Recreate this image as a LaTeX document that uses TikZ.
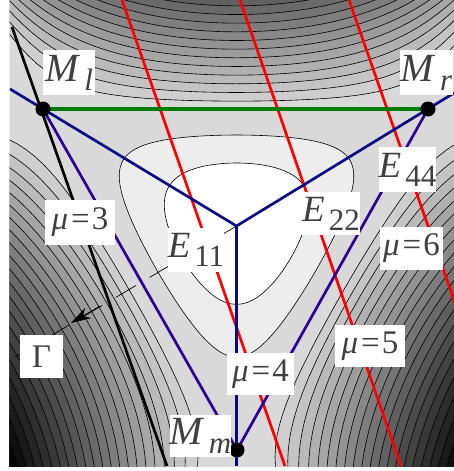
\documentclass[tikz,border=0pt]{standalone}
\usepackage{fontspec}
\setmainfont{Liberation Serif}
\usetikzlibrary{arrows.meta}
\definecolor{axisblue}{RGB}{10,10,135}
\definecolor{edgeviolet}{RGB}{45,0,150}
\definecolor{pathgreen}{RGB}{0,125,0}
\newcommand{\lowsub}[1]{\hspace{4pt}\raisebox{-9pt}{\fontsize{31}{31}\selectfont #1}}
\begin{document}
\begin{tikzpicture}[
    x=1pt, y=-1pt,
    isoline/.style={draw=black, line width=0.6pt},
    redline/.style={red, line width=2.7pt},
    axisline/.style={axisblue, line width=2.7pt},
    edgeline/.style={edgeviolet, line width=2.7pt},
    dot/.style={circle, fill=black, inner sep=0pt, minimum size=15pt},
    tag/.style={fill=white, text=black!75, inner sep=0pt, font=\fontsize{33}{33}\selectfont},
    declare function={rs(\x)=\ra+(2.4-\ra)*\x*\x;
      rc(\x)=\ra+(\rb-\ra)*(1-cos(180*\x))/2;
      phi(\x)=acos(max(-1,min(1,3*(\lv-\x*\x/2)/(\x*\x*\x))))/3;}
]
\useasboundingbox (0,0) rectangle (454,471);
\coordinate (C) at (236.5,226);
\coordinate (Ml) at (43,109);
\coordinate (Mr) at (428,109);
\coordinate (Mm) at (237,450);
\coordinate (Wl) at (10,89);
\coordinate (Wr) at (454,93);
\coordinate (Sb) at (236.5,466);

\begin{scope}
\clip (9.5,0) rectangle (454,466);
\fill[black!15] (0,0) rectangle (454,471);
% potential levels around the centre and in the three hills
\begin{scope}[shift={(C)}, x=225pt, y=225pt]
\foreach \ra/\rb/\col in {0.4044/0.5827/black!7, 0.28/0.3481/white} {
  \pgfmathsetmacro\lv{\ra^2/2+\ra^3/3}
  \filldraw[isoline, fill=\col] (90:\ra) \foreach \ax in {90,210,330} {
    -- plot[domain=0:1, samples=30] ({\ax+phi(rc(\x))}:{rc(\x)})
    -- plot[domain=1:0, samples=30] ({\ax+120-phi(rc(\x))}:{rc(\x)}) } -- cycle;
}
\foreach \k in {0,...,21} {
  \pgfmathsetmacro\ra{0.555+0.0385*\k}
  \pgfmathsetmacro\lv{\ra^2/2+\ra^3/3}
  \pgfmathsetmacro\pct{min(100,100-(206-10*\k)/2.55)}
  \foreach \ax in {90,210,330}
    \filldraw[isoline, fill=black!\pct]
      plot[domain=1:0, samples=40] ({\ax+phi(rs(\x))}:{rs(\x)})
      -- plot[domain=0:1, samples=40] ({\ax-phi(rs(\x))}:{rs(\x)})
      -- (\ax:5) -- cycle;
}
\end{scope}

\coordinate (R1a) at (122,0);  \coordinate (R1b) at (285,466);
\coordinate (R2a) at (240,0);  \coordinate (R2b) at (401,466);
\coordinate (R3a) at (349,0);  \coordinate (R3b) at (512,466);
\draw[redline] (R1a) -- (R1b);
\draw[redline] (R2a) -- (R2b);
\draw[redline] (R3a) -- (R3b);

\draw[pathgreen, line width=4pt] (Ml) -- (Mr);
\draw[axisline] (Wl) -- (C) -- (Wr);
\draw[axisline] (C) -- (Sb);
\draw[edgeline] (Ml) -- (Mm) -- (Mr);

\coordinate (Gt) at (12,27);
\coordinate (Gb) at (167,466);
\draw[black, line width=2.7pt] (Gt) -- (Gb);

\coordinate (Ge) at (10,360);
\coordinate (Aa) at (100,306);
\coordinate (Ab) at (71,323);
\draw[line width=0.7pt, dash pattern=on 23pt off 16pt] (C) -- (Ge);
\draw[line width=0.7pt, -{Stealth[length=20pt, width=12pt]}] (Aa) -- (Ab);
\end{scope}

\node[dot] (dMl) at (Ml) {};
\node[dot] (dMr) at (Mr) {};
\node[dot] (dMm) at (Mm) {};

\node[tag, minimum width=52pt, minimum height=45pt, font=\fontsize{40}{40}\selectfont] (tMl) at (69,72.5) {\textit{M}\lowsub{\textit{l}}};
\node[tag, minimum width=53pt, minimum height=45pt, font=\fontsize{40}{40}\selectfont] (tMr) at (426.5,72.5) {\textit{M}\lowsub{\textit{r}}};
\node[tag, minimum width=57pt, minimum height=42pt, font=\fontsize{40}{40}\selectfont] (tMm) at (200.5,436) {\textit{M}\lowsub{\textit{m}}};
\node[tag, minimum width=48pt, minimum height=44pt, font=\fontsize{37}{37}\selectfont] (tE11) at (196,250) {\textit{E}\lowsub{11}};
\node[tag, minimum width=55pt, minimum height=43pt, font=\fontsize{37}{37}\selectfont] (tE22) at (331,213.5) {\textit{E}\lowsub{22}};
\node[tag, minimum width=53pt, minimum height=45pt, font=\fontsize{37}{37}\selectfont] (tE44) at (407.5,169.5) {\textit{E}\lowsub{44}};
\node[tag, minimum width=70pt, minimum height=45pt] (tmu3) at (80,222.5) {\textit{μ}\hspace{3pt}=\hspace{2pt}3};
\node[tag, minimum width=67pt, minimum height=42pt] (tmu4) at (260.5,374) {\textit{μ}\hspace{3pt}=\hspace{2pt}4};
\node[tag, minimum width=70pt, minimum height=42pt] (tmu5) at (370,346) {\textit{μ}\hspace{3pt}=\hspace{2pt}5};
\node[tag, minimum width=63pt, minimum height=43pt] (tmu6) at (411.5,248.5) {\textit{μ}\hspace{3pt}=\hspace{2pt}6};
\node[tag, minimum width=43pt, minimum height=43pt] (tG) at (41.5,356.5) {Γ};
\end{tikzpicture}
\end{document}
